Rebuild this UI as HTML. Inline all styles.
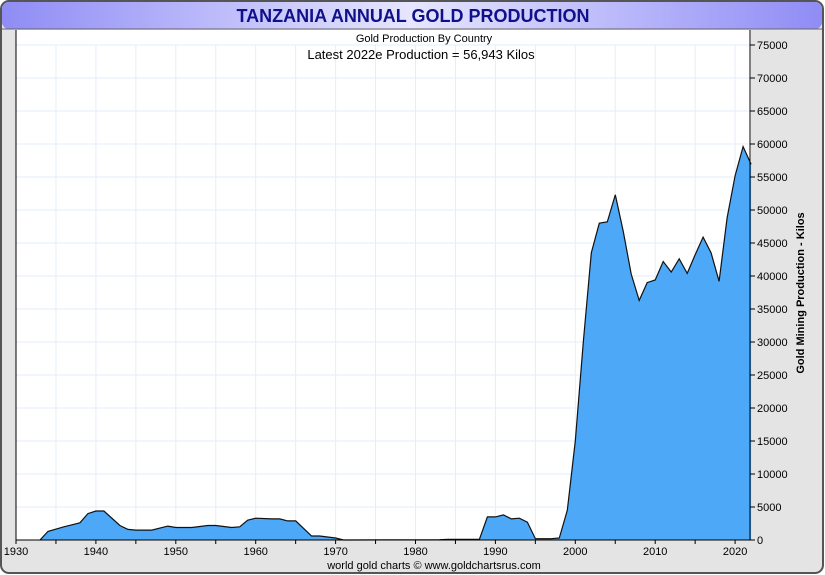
<!DOCTYPE html>
<html><head><meta charset="utf-8"><style>
body{margin:0;width:825px;height:575px;background:#fff;font-family:"Liberation Sans",sans-serif;overflow:hidden}
</style></head><body>
<svg width="825" height="575" style="display:block">
<defs>
<linearGradient id="tb" x1="0" y1="0" x2="1" y2="0"><stop offset="0" stop-color="#8f8cf5"/><stop offset="0.5" stop-color="#e6e6ff"/><stop offset="1" stop-color="#8f8cf5"/></linearGradient>
</defs>
<rect x="1" y="1" width="822" height="572" rx="8" fill="#e4e4e4" stroke="#555" stroke-width="2"/>
<rect x="2" y="2" width="820" height="27" rx="7" fill="url(#tb)"/>
<line x1="2" y1="29" x2="822" y2="29" stroke="#666"/>
<text x="413" y="22" text-anchor="middle" font-size="18" font-weight="bold" fill="#10108a">TANZANIA ANNUAL GOLD PRODUCTION</text>
<rect x="16" y="30" width="735" height="510" fill="#fff"/>
<g id="grid"></g>
<text x="424" y="42" text-anchor="middle" font-size="11">Gold Production By Country</text>
<text x="421" y="59" text-anchor="middle" font-size="13">Latest 2022e  Production = 56,943 Kilos</text>
<g id="area"></g>
<g id="axes"></g>
<text transform="translate(804,293) rotate(-90)" text-anchor="middle" font-size="11" font-weight="bold">Gold Mining Production - Kilos</text>
<text x="434" y="569" text-anchor="middle" font-size="11">world gold charts © www.goldchartsrus.com</text>
</svg>
<script>
const years=[1933,1934,1936,1938,1939,1940,1941,1943,1944,1945,1947,1949,1950,1952,1954,1955,1957,1958,1959,1960,1962,1963,1964,1965,1967,1968,1970,1971,1983,1984,1987,1988,1989,1990,1991,1992,1993,1994,1995,1997,1998,1999,2000,2001,2002,2003,2004,2005,2006,2007,2008,2009,2010,2011,2012,2013,2014,2015,2016,2017,2018,2019,2020,2021,2022];
const kilos=[0,1300,2000,2600,4000,4400,4400,2200,1600,1500,1500,2100,1900,1900,2200,2200,1900,2000,3000,3300,3200,3200,2900,2900,600,600,300,0,50,100,100,100,3500,3500,3800,3200,3300,2700,200,200,300,4500,15000,30000,43500,48000,48200,52300,46800,40300,36300,39000,39400,42200,40600,42600,40400,43200,45900,43500,39200,48800,55200,59600,56943];
const xTicks=[1930,1940,1950,1960,1970,1980,1990,2000,2010,2020];
const yTicks=[0,5000,10000,15000,20000,25000,30000,35000,40000,45000,50000,55000,60000,65000,70000,75000];
const NS='http://www.w3.org/2000/svg';
const X=y=>16+(y-1930)*7.99, Y=v=>540-v*495/75000;
function mk(t,a,p){const e=document.createElementNS(NS,t);for(const k in a)e.setAttribute(k,a[k]);p.appendChild(e);return e;}
const g=document.getElementById('grid'),ar=document.getElementById('area'),ax=document.getElementById('axes');
for(let yr=1935;yr<=2020;yr+=5){const l=mk('line',{x1:X(yr),x2:X(yr),y1:45,y2:540,stroke:'#e3eef8'},g);

}
yTicks.forEach(v=>{const l=mk('line',{x1:16,x2:750,y1:Y(v),y2:Y(v),stroke:'#e3eef8'},g);


const tk=mk('line',{x1:750,x2:755,y1:Y(v),y2:Y(v),stroke:'#000'},ax);


const t=mk('text',{x:757,y:Y(v)+4,'font-size':11},ax);t.textContent=v;

});
let d='M'+X(years[0])+','+Y(0);
years.forEach((yr,i)=>d+=' L'+X(yr).toFixed(1)+','+Y(kilos[i]).toFixed(1));
const line=d;
d+=' L'+X(years[years.length-1])+','+Y(0)+' Z';
const p=mk('path',{d:d,fill:'#4da9f7'},ar);


const pl=mk('path',{d:line,fill:'none',stroke:'#111','stroke-width':1.2},ar);


const b=mk('path',{d:'M16,30 V540 H750 V30',fill:'none',stroke:'#000'},ax);


for(let yr=1930;yr<=2020;yr+=5){const tk=mk('line',{x1:X(yr),x2:X(yr),y1:540,y2:544,stroke:'#000'},ax);

}
xTicks.forEach(yr=>{const t=mk('text',{x:X(yr),y:555,'font-size':11,'text-anchor':'middle'},ax);t.textContent=yr;

});
</script>
</body></html>
